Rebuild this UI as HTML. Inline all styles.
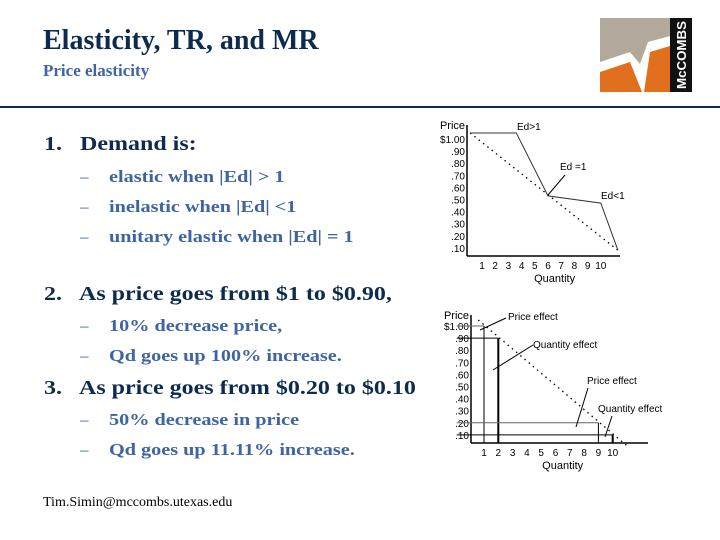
<!DOCTYPE html>
<html><head><meta charset="utf-8"><style>
body{margin:0;width:720px;height:540px;background:#fff;position:relative;overflow:hidden;font-family:"Liberation Serif",serif}
.t{position:absolute;white-space:nowrap;color:#0d2b4e}
.p{font-size:20px;font-weight:bold;transform:scaleX(1.2);transform-origin:0 0}
.d{font-size:17px;color:#3e64a4}
.b{font-size:17px;font-weight:bold;color:#3e64a4;transform:scaleX(1.19);transform-origin:0 0}
</style></head><body>
<div class="t" style="left:43px;top:25px;font-size:28px;font-weight:bold;color:#0d2b4e">Elasticity, TR, and MR</div>
<div class="t" style="left:43px;top:61px;font-size:17px;font-weight:bold;color:#3e64a4">Price elasticity</div>
<div style="position:absolute;left:0;top:106px;width:720px;height:2px;background:#0d2b4e"></div>

<div style="position:absolute;left:600px;top:18px;width:92px;height:74px">
<svg width="92" height="74">
<rect x="0" y="0" width="70" height="74" fill="#b3a99a"/>
<polygon points="0,44 30,34 40,46 48,24 70,18 70,74 0,74" fill="#fff"/>
<polygon points="0,54 30,44 42,74 0,74" fill="#e0701e"/>
<polygon points="50,34 70,28 70,74 44,74" fill="#e0701e"/>
<rect x="70" y="0" width="22" height="74" fill="#111"/>
<text x="0" y="0" transform="translate(86,71) rotate(-90)" fill="#fff" font-family="Liberation Sans" font-weight="bold" font-size="13" textLength="68" lengthAdjust="spacingAndGlyphs">McCOMBS</text>
</svg></div>

<div class="t p" style="left:44px;top:133px">1.</div>
<div class="t p" style="left:80px;top:133px">Demand is:</div>
<div class="t d" style="left:80px;top:167px">–</div>
<div class="t b" style="left:109px;top:167px">elastic when |Ed| &gt; 1</div>
<div class="t d" style="left:80px;top:197px">–</div>
<div class="t b" style="left:109px;top:197px">inelastic when |Ed| &lt;1</div>
<div class="t d" style="left:80px;top:227px">–</div>
<div class="t b" style="left:109px;top:227px">unitary elastic when |Ed| = 1</div>
<div class="t p" style="left:44px;top:283px">2.</div>
<div class="t p" style="left:79px;top:283px">As price goes from $1 to $0.90,</div>
<div class="t d" style="left:80px;top:316px">–</div>
<div class="t b" style="left:109px;top:316px">10% decrease price,</div>
<div class="t d" style="left:80px;top:346px">–</div>
<div class="t b" style="left:109px;top:346px">Qd goes up 100% increase.</div>
<div class="t p" style="left:44px;top:377px">3.</div>
<div class="t p" style="left:79px;top:377px">As price goes from $0.20 to $0.10</div>
<div class="t d" style="left:80px;top:410px">–</div>
<div class="t b" style="left:109px;top:410px">50% decrease in price</div>
<div class="t d" style="left:80px;top:440px">–</div>
<div class="t b" style="left:109px;top:440px">Qd goes up 11.11% increase.</div>
<div class="t" style="left:43px;top:495px;font-size:14px;color:#000">Tim.Simin@mccombs.utexas.edu</div>

<svg id="c" width="720" height="540" style="position:absolute;left:0;top:0" font-family="Liberation Sans" font-size="10"></svg>
<script>
const priceTicks=["$1.00",".90",".80",".70",".60",".50",".40",".30",".20",".10"];
const priceVals=[1,0.9,0.8,0.7,0.6,0.5,0.4,0.3,0.2,0.1];
const qtyTicks=[1,2,3,4,5,6,7,8,9,10];
const kinkQ=[0.1,3.6,6,10,11.3];
const kinkP=[1.05,1.05,0.53,0.47,0.08];
const demandQ=[0.1,11.3];
const demandP=[1.05,0.08];
const demand2Q=[0.6,11];
const demand2P=[1.05,0.01];
const rectQ=[1,2,9,10];
const rectP=[1,0.9,0.2,0.1];
const NS="http://www.w3.org/2000/svg";
const svg=document.getElementById('c');
function mk(tag,attrs,name,txt){const e=document.createElementNS(NS,tag);for(const k in attrs)e.setAttribute(k,attrs[k]);


if(txt!==undefined)e.textContent=txt;svg.appendChild(e);return e;}
function chart(o){
 const x=q=>o.x0+(q-1)*o.dx, y=p=>o.y1+(1-p)/0.1*o.dy;
 mk('line',{x1:o.ax,y1:o.top,x2:o.ax,y2:o.base,stroke:'#000','stroke-width':1.5},o.n+'-y-axis');
 mk('line',{x1:o.ax,y1:o.base,x2:o.right,y2:o.base,stroke:'#000','stroke-width':1.5},o.n+'-x-axis');
 mk('text',{x:o.ax-2,y:o.top+4,'text-anchor':'end','font-size':11},o.n+'-y-title','Price');
 priceTicks.forEach((t,i)=>mk('text',{x:o.ax-2,y:y(priceVals[i])+4,'text-anchor':'end'},o.n+'-y-tick',t));
 qtyTicks.forEach(q=>mk('text',{x:x(q),y:o.base+13,'text-anchor':'middle'},o.n+'-x-tick',q));
 mk('text',{x:x(6.5),y:o.base+26,'text-anchor':'middle','font-size':11},o.n+'-x-title','Quantity');
 return {x,y};
}
function pts(s,Q,P){return Q.map((q,i)=>s.x(q)+','+s.y(P[i])).join(' ');}
const s1=chart({n:'chart1',x0:482,dx:13.2,y1:139,dy:12.1,ax:467,top:125,base:256,right:620});
mk('polyline',{points:pts(s1,demandQ,demandP),fill:'none',stroke:'#000','stroke-width':1.3,'stroke-dasharray':'1.5,4'},'chart1-linear-demand');
mk('polyline',{points:pts(s1,kinkQ,kinkP),fill:'none',stroke:'#333','stroke-width':1},'chart1-kinked-demand');
mk('text',{x:517,y:130},'chart1-label-ed-gt1','Ed>1');
mk('text',{x:560,y:170},'chart1-label-ed-eq1','Ed =1');
mk('line',{x1:565,y1:175,x2:548,y2:195,stroke:'#000'},'chart1-arrow');
mk('text',{x:601,y:199},'chart1-label-ed-lt1','Ed<1');
const s2=chart({n:'chart2',x0:484,dx:14.3,y1:326,dy:12.1,ax:471,top:315,base:443,right:648});
mk('polyline',{points:pts(s2,demand2Q,demand2P),fill:'none',stroke:'#000','stroke-width':1.3,'stroke-dasharray':'1.5,4'},'chart2-demand');
rectQ.forEach((q,i)=>{
 mk('line',{x1:s2.x(0)-13,y1:s2.y(rectP[i]),x2:s2.x(q),y2:s2.y(rectP[i]),stroke:i%2?'#000':'#666','stroke-width':1},'chart2-rect-top');
 mk('line',{x1:s2.x(q),y1:s2.y(rectP[i]),x2:s2.x(q),y2:443,stroke:'#000','stroke-width':i%2?2:1},'chart2-rect-side');
});
mk('text',{x:508,y:320},'chart2-label-price-effect-1','Price effect');
mk('line',{x1:506,y1:318,x2:480,y2:330,stroke:'#000'},'chart2-arrow-1');
mk('text',{x:533,y:348},'chart2-label-qty-effect-1','Quantity effect');
mk('line',{x1:533,y1:345,x2:493,y2:370,stroke:'#000'},'chart2-arrow-2');
mk('text',{x:587,y:384},'chart2-label-price-effect-2','Price effect');
mk('line',{x1:588,y1:388,x2:576,y2:427,stroke:'#000'},'chart2-arrow-3');
mk('text',{x:598,y:412},'chart2-label-qty-effect-2','Quantity effect');
mk('line',{x1:612,y1:416,x2:605,y2:437,stroke:'#000'},'chart2-arrow-4');
</script>
</body></html>
